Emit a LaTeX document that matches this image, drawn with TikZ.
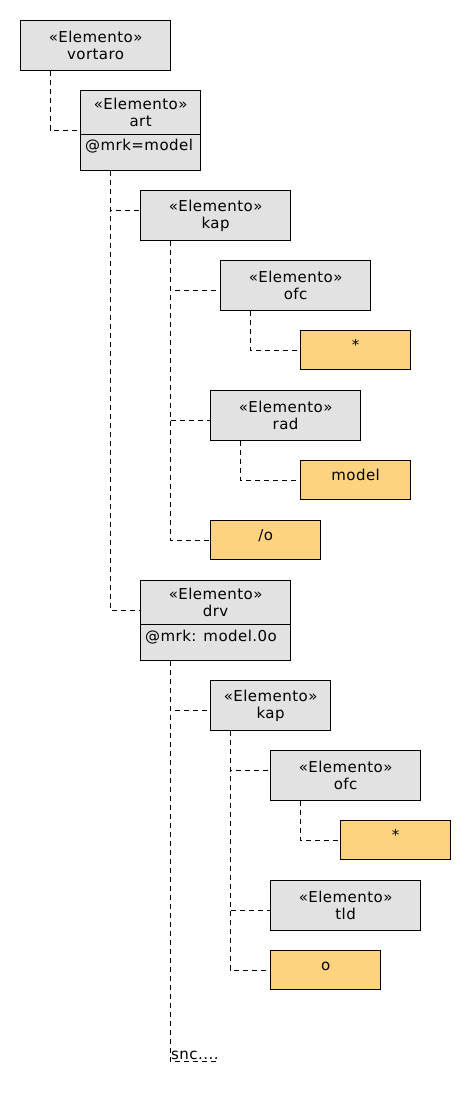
\documentclass[tikz,border=0pt]{standalone}
\usepackage{fontspec}
\setmainfont[LetterSpace=3]{DejaVu Sans}
\usepackage{tikz}
\usetikzlibrary{calc}

\definecolor{elemgray}{RGB}{226,226,226}
\definecolor{litorange}{RGB}{254,211,128}

\begin{document}
\begin{tikzpicture}[x=1pt, y=-1pt,
    elem/.style={draw, fill=elemgray, line width=1.2pt, anchor=north west, inner sep=0pt,
                 minimum width=150pt, minimum height=50pt, align=center,
                 font=\fontsize{15}{17}\selectfont},
    lit/.style={draw, fill=litorange, line width=1.2pt, anchor=north west, inner xsep=0pt, inner ysep=0pt,
                minimum width=110pt, text height=20pt, text depth=19pt,
                font=\fontsize{15}{17}\selectfont},
    title/.style={align=center, inner sep=0pt, font=\fontsize{15}{17}\selectfont},
    attr/.style={anchor=base west, inner sep=0pt, font=\fontsize{15}{17}\selectfont},
    conn/.style={draw, line width=0.9pt, dash pattern=on 5pt off 4pt}]
    \useasboundingbox (0,0) rectangle (470,1100);

    \node[elem] (vortaro) at (20,20) {«Elemento»\\vortaro};

    % art with attribute compartment
    \node[elem, minimum width=120pt, minimum height=80pt] (art) at (80,90) {};
    \node[title] (artn) at ($(art.north)+(0,22)$) {«Elemento»\\art};
    \draw[line width=0.9pt] ($(art.north west)+(0,44)$) -- ($(art.north east)+(0,44)$);
    \node[attr] (arta) at ($(art.north west)+(5,60)$) {@mrk=model};

    \node[elem] (kapone) at (140,190) {«Elemento»\\kap};
    \node[elem] (ofcone) at (220,260) {«Elemento»\\ofc};
    \node[lit] (starone) at (300,330) {*};
    \node[elem] (rad) at (210,390) {«Elemento»\\rad};
    \node[lit] (model) at (300,460) {model};
    \node[lit] (slo) at (210,520) {/o};

    % drv with attribute compartment
    \node[elem, minimum height=80pt] (drv) at (140,580) {};
    \node[title] (drvn) at ($(drv.north)+(0,22)$) {«Elemento»\\drv};
    \draw[line width=0.9pt] ($(drv.north west)+(0,44)$) -- ($(drv.north east)+(0,44)$);
    \node[attr] (drva) at ($(drv.north west)+(5,61)$) {@mrk: model.0o};

    \node[elem, minimum width=120pt] (kaptwo) at (210,680) {«Elemento»\\kap};
    \node[elem] (ofctwo) at (270,750) {«Elemento»\\ofc};
    \node[lit] (startwo) at (340,820) {*};
    \node[elem] (tld) at (270,880) {«Elemento»\\tld};
    \node[lit] (oo) at (270,950) {o};
    \node[anchor=south west, inner sep=1pt, font=\fontsize{15}{17}\selectfont] (snc) at (170,1061) {snc....};

    \draw[conn] ($(vortaro.south west)+(30,0)$) |- ($(art.north west)+(0,40)$);
    \draw[conn] ($(art.south west)+(30,0)$) |- ($(kapone.north west)+(0,20)$);
    \draw[conn] ($(art.south west)+(30,0)$) |- ($(drv.north west)+(0,30)$);
    \draw[conn] ($(kapone.south west)+(30,0)$) |- ($(ofcone.north west)+(0,30)$);
    \draw[conn] ($(ofcone.south west)+(30,0)$) |- ($(starone.north west)+(0,20)$);
    \draw[conn] ($(kapone.south west)+(30,0)$) |- ($(rad.north west)+(0,30)$);
    \draw[conn] ($(rad.south west)+(30,0)$) |- ($(model.north west)+(0,20)$);
    \draw[conn] ($(kapone.south west)+(30,0)$) |- ($(slo.north west)+(0,20)$);
    \draw[conn] ($(drv.south west)+(30,0)$) |- ($(kaptwo.north west)+(0,30)$);
    \draw[conn] ($(kaptwo.south west)+(20,0)$) |- ($(ofctwo.north west)+(0,20)$);
    \draw[conn] ($(ofctwo.south west)+(30,0)$) |- ($(startwo.north west)+(0,20)$);
    \draw[conn] ($(kaptwo.south west)+(20,0)$) |- ($(tld.north west)+(0,30)$);
    \draw[conn] ($(kaptwo.south west)+(20,0)$) |- ($(oo.north west)+(0,20)$);
    \draw[conn] ($(drv.south west)+(30,0)$) |- (snc.south east);
\end{tikzpicture}
\end{document}
